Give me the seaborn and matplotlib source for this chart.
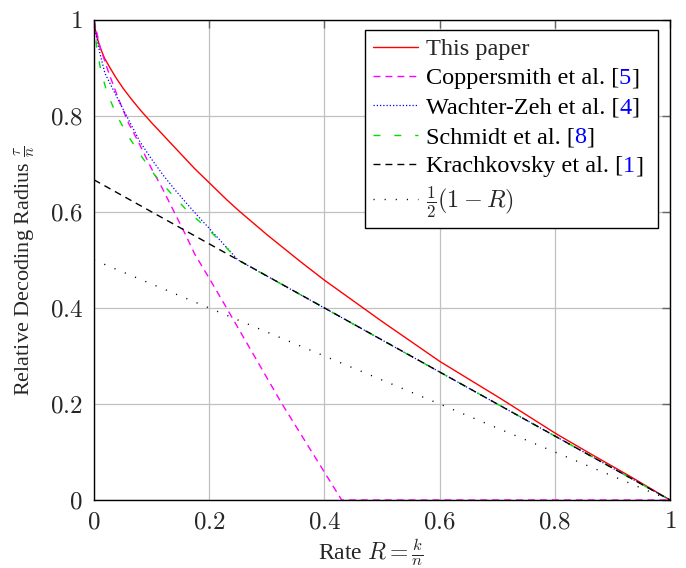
import numpy as np
import pandas as pd
import seaborn as sns
from matplotlib import pyplot as plt
from matplotlib.offsetbox import HPacker, TextArea, DrawingArea

# values
this_paper_R = [0, 0.002, 0.005, 0.010, 0.018, 0.028, 0.038, 0.051, 0.065, 0.08, 0.10, 0.132,
                0.175, 0.2, 0.23, 0.253, 0.3, 0.358, 0.4, 0.5, 0.6, 0.705, 0.803, 0.861,
                0.931, 1.0]
this_paper_tau = [1, 0.982, 0.965, 0.945, 0.921, 0.9, 0.88, 0.857, 0.835, 0.813, 0.786, 0.745,
                  0.69, 0.661, 0.626, 0.601, 0.553, 0.497, 0.458, 0.372, 0.289, 0.212, 0.1375,
                  0.097, 0.049, 0]

coppersmith_R = [0, 0.0104, 0.025, 0.042, 0.06, 0.077, 0.1, 0.1175, 0.135, 0.158, 0.175,
                 0.2, 0.222, 0.326, 0.43, 1.0]
coppersmith_tau = [1, 0.944, 0.892, 0.837, 0.785, 0.746, 0.69, 0.652, 0.61, 0.555, 0.512,
                   0.462, 0.417, 0.201, 0.0, 0.0]

wachter_R = [0, 0.002, 0.0104, 0.019, 0.034, 0.048, 0.064, 0.08, 0.1, 0.12, 0.14, 0.16,
             0.18, 0.2, 0.225, 0.25, 1.0]
wachter_tau = [1, 0.979, 0.93, 0.889, 0.853, 0.82, 0.783, 0.746, 0.71, 0.677, 0.647, 0.619,
               0.592, 0.566, 0.533, 0.5, 0]

schmidt_R = [0, 0.002, 0.0046, 0.0116, 0.022, 0.039, 0.06, 0.083, 0.106, 0.135, 0.164, 0.196,
             0.224, 0.25, 1.0]
schmidt_tau = [1, 0.975, 0.944, 0.896, 0.851, 0.802, 0.757, 0.715, 0.676, 0.637, 0.6, 0.567,
               0.533, 0.5, 0]

krach_R = [0, 1.0]
krach_tau = [0.667, 0]

half_R = [0, 1.0]
half_tau = [0.5, 0]

names = ["This paper", "Coppersmith et al.", "Wachter-Zeh et al.", "Schmidt et al.",
         "Krachkovsky et al.", r"$\frac{1}{2}(1-R)$"]
refs = [None, "5", "4", "8", "1", None]
ticks = [0, 0.2, 0.4, 0.6, 0.8, 1]
tick_labels = ["$0$", "$0.2$", "$0.4$", "$0.6$", "$0.8$", "$1$"]

sns.set_style("white")
plt.rcParams["font.family"] = ["Liberation Serif", "DejaVu Serif"]
plt.rcParams["mathtext.fontset"] = "cm"

series = [
    (this_paper_R, this_paper_tau, "#ff0000", "-", 1.0),
    (coppersmith_R, coppersmith_tau, "#ff00ff", (0, (5, 3.6)), 1.0),
    (wachter_R, wachter_tau, "#0000ff", (0, (1, 1.6)), 0.9),
    (schmidt_R, schmidt_tau, "#00e000", (0, (5, 10)), 1.0),
    (krach_R, krach_tau, "#000000", (0, (5, 3.6)), 1.0),
    (half_R, half_tau, "#000000", (0, (0.8, 7.2)), 1.0),
]

fig = plt.figure(figsize=(6.86, 5.68), dpi=100)
ax = fig.add_axes([94 / 686, 68 / 568, 576 / 686, 480 / 568])

for (xs, ys, color, ls, lw), name, ref in zip(series, names, refs):
    label = name if ref is None else f"{name} [{ref}]"
    df = pd.DataFrame({"R": xs, "tau": ys})
    sns.lineplot(data=df, x="R", y="tau", ax=ax, color=color, linestyle=ls,
                 linewidth=lw, estimator=None, sort=False, label=label)

ax.set_xlim(0, 1)
ax.set_ylim(0, 1)
ax.set_xticks(ticks, tick_labels)
ax.set_yticks(ticks, tick_labels)
ax.grid(True, color="#c0c0c0", linewidth=0.9)
ax.set_axisbelow(True)
ax.tick_params(direction="in", length=6, width=1.0, color="#666666",
               top=True, right=True, labelsize=18, pad=8)
for sp in ax.spines.values():
    sp.set_color("black")
    sp.set_linewidth(1.0)

ax.set_xlabel(r"Rate $R = \frac{k}{n}$", fontsize=17)
ax.set_ylabel(r"Relative Decoding Radius $\frac{\tau}{n}$", fontsize=16)
ax.xaxis.set_label_coords(0.481, -0.076)
ax.yaxis.set_label_coords(-0.099, 0.478)

fs = 17.5
leg = ax.legend(loc="upper right", bbox_to_anchor=(0.979, 0.979), borderaxespad=0,
                fontsize=fs, frameon=True, fancybox=False, framealpha=1,
                edgecolor="black", handlelength=1.85, handletextpad=0.3,
                labelspacing=0.3, borderpad=0.33)
leg.get_frame().set_linewidth(1.0)

# colour the citation numbers blue inside the legend
props = dict(fontsize=fs, color="black")
rows = leg._legend_handle_box.get_children()[0].get_children()
for row, name, ref in zip(rows, names, refs):
    if ref is None:
        continue
    parts = [TextArea(name + " [", textprops=props),
             TextArea(ref, textprops=dict(fontsize=fs, color="#0000ff")),
             TextArea("]", textprops=props)]
    if ref == "1":
        parts.append(DrawingArea(5, 1))  # a bit more room on the right, like the reference
    box = HPacker(children=parts, pad=0, sep=0, align="baseline")
    box.set_figure(fig)
    row.get_children()[1] = box

fig.savefig("out.png", dpi=100)
